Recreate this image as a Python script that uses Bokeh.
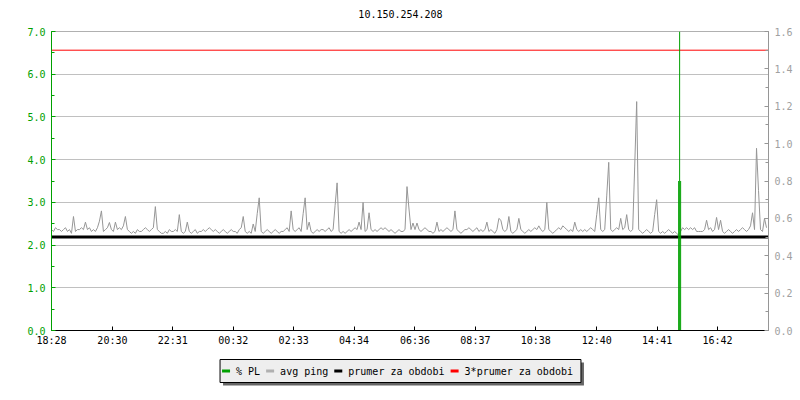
from bokeh.plotting import figure
from bokeh.layouts import column
from bokeh.models import (Range1d, LinearAxis, SingleIntervalTicker, FixedTicker,
                          NumeralTickFormatter)
from bokeh.core.properties import value
from bokeh.embed import file_html
from bokeh.resources import INLINE

# ---------------- data ----------------
title_text = "10.150.254.208"
start_label = "18:28"
tick_labels = ["18:28", "20:30", "22:31", "00:32", "02:33", "04:34",
               "06:36", "08:37", "10:38", "12:40", "14:41", "16:42"]
sample_step_min = 4  # minutes between avg ping samples

# avg ping (right axis), one value per sample
avg_ping = [
    0.54, 0.53, 0.55, 0.54, 0.54, 0.53, 0.54, 0.55, 0.53, 0.54, 0.52, 0.61, 0.53, 0.54, 0.54, 0.55, 0.54, 0.58, 0.54, 0.55,
    0.53, 0.54, 0.53, 0.55, 0.585, 0.64, 0.53, 0.54, 0.55, 0.578, 0.54, 0.53, 0.58, 0.54, 0.55, 0.54, 0.56, 0.61, 0.54, 0.53,
    0.52, 0.53, 0.52, 0.54, 0.53, 0.53, 0.54, 0.55, 0.54, 0.53, 0.54, 0.55, 0.663, 0.54, 0.53, 0.52, 0.52, 0.53, 0.52, 0.54,
    0.53, 0.53, 0.54, 0.53, 0.62, 0.53, 0.52, 0.53, 0.58, 0.53, 0.52, 0.53, 0.54, 0.52, 0.53, 0.53, 0.54, 0.53, 0.54, 0.55,
    0.54, 0.53, 0.54, 0.53, 0.52, 0.53, 0.54, 0.53, 0.52, 0.53, 0.54, 0.53, 0.53, 0.52, 0.54, 0.55, 0.61, 0.53, 0.52, 0.53,
    0.52, 0.57, 0.53, 0.625, 0.71, 0.53, 0.52, 0.53, 0.54, 0.53, 0.52, 0.53, 0.54, 0.53, 0.52, 0.53, 0.53, 0.54, 0.55, 0.53,
    0.64, 0.54, 0.53, 0.54, 0.55, 0.53, 0.625, 0.71, 0.54, 0.58, 0.53, 0.52, 0.53, 0.54, 0.53, 0.54, 0.54, 0.53, 0.54, 0.55,
    0.53, 0.54, 0.67, 0.79, 0.53, 0.52, 0.53, 0.52, 0.53, 0.54, 0.53, 0.54, 0.55, 0.54, 0.58, 0.54, 0.685, 0.53, 0.54, 0.63,
    0.54, 0.53, 0.54, 0.53, 0.54, 0.55, 0.54, 0.55, 0.54, 0.53, 0.54, 0.53, 0.52, 0.53, 0.54, 0.53, 0.53, 0.54, 0.77, 0.65,
    0.54, 0.575, 0.54, 0.575, 0.54, 0.53, 0.54, 0.55, 0.54, 0.53, 0.53, 0.52, 0.53, 0.58, 0.53, 0.54, 0.53, 0.54, 0.55, 0.54,
    0.53, 0.54, 0.64, 0.54, 0.53, 0.52, 0.53, 0.54, 0.54, 0.55, 0.54, 0.53, 0.54, 0.55, 0.53, 0.54, 0.53, 0.54, 0.58, 0.53,
    0.54, 0.53, 0.52, 0.54, 0.60, 0.59, 0.54, 0.53, 0.54, 0.61, 0.53, 0.52, 0.53, 0.54, 0.60, 0.54, 0.53, 0.52, 0.53, 0.54,
    0.53, 0.54, 0.55, 0.54, 0.56, 0.54, 0.53, 0.54, 0.685, 0.54, 0.53, 0.52, 0.53, 0.54, 0.55, 0.54, 0.56, 0.55, 0.54, 0.53,
    0.54, 0.53, 0.58, 0.54, 0.53, 0.54, 0.53, 0.54, 0.53, 0.54, 0.55, 0.54, 0.53, 0.62, 0.71, 0.54, 0.53, 0.54, 0.72, 0.90,
    0.54, 0.53, 0.54, 0.55, 0.54, 0.60, 0.54, 0.55, 0.62, 0.54, 0.53, 0.54, 0.875, 1.225, 0.54, 0.53, 0.52, 0.53, 0.54, 0.53,
    0.52, 0.53, 0.62, 0.70, 0.53, 0.52, 0.53, 0.52, 0.53, 0.54, 0.53, 0.52, 0.53, 0.52, 0.51, 0.53, 0.55, 0.54, 0.55, 0.54,
    0.55, 0.54, 0.55, 0.53, 0.53, 0.53, 0.53, 0.54, 0.59, 0.54, 0.55, 0.53, 0.54, 0.605, 0.54, 0.59, 0.53, 0.52, 0.53, 0.54,
    0.53, 0.52, 0.53, 0.54, 0.53, 0.54, 0.55, 0.54, 0.53, 0.54, 0.56, 0.63, 0.54, 0.975, 0.75, 0.54, 0.53, 0.60, 0.55,
]
prumer = 0.50  # average for the period (right axis)

# packet loss % (left axis), 2-minute samples around the outage, minutes from start
pl_step_min = 2
pl_minutes = [1256, 1258, 1260]
pl_values = [3.5, 100.0, 3.5]

legend_labels = ["% PL", "avg ping", "prumer za obdobi", "3*prumer za obdobi"]

# ---------------- derived ----------------
def to_min(s):
    h, m = s.split(":")
    return int(h) * 60 + int(m)

t0 = to_min(start_label)
tick_pos = [(to_min(s) - t0) % 1440 for s in tick_labels]
ping_minutes = [i * sample_step_min for i in range(len(avg_ping))]
x_end = len(avg_ping) * sample_step_min

GREEN = "#00a000"
GRAY = "#969696"
GRID = "#c0c0c0"
FONT = "DejaVu Sans Mono"
FRAME_L, FRAME_W, FRAME_R = 51, 717, 24
HEAD_H = 24
MAIN_TOP = 7
FRAME_H = 299
MAIN_BOTTOM = 22
LEG_H = 48
CENTER_X = 400


def blank_fig(h):
    # frame aligned with the main chart's frame; x in page pixels, y from top
    f = figure(frame_width=FRAME_W, frame_height=h, output_backend="svg", toolbar_location=None,
               x_range=Range1d(FRAME_L, FRAME_L + FRAME_W), y_range=Range1d(h, 0),
               x_axis_location=None, y_axis_location=None,
               min_border_left=FRAME_L, min_border_right=FRAME_R,
               min_border_top=0, min_border_bottom=0)
    f.grid.visible = False
    f.outline_line_color = None
    f.background_fill_color = "white"
    f.border_fill_color = "white"
    return f


# ---------------- header (title) ----------------
head = blank_fig(HEAD_H)
head.text(x=[CENTER_X], y=[13], text=[title_text], text_align="center", text_baseline="middle",
          text_font=value(FONT), text_font_size="10px", text_color="black")

# ---------------- main chart ----------------
p = figure(frame_width=FRAME_W, frame_height=FRAME_H, output_backend="svg", toolbar_location=None,
           x_range=Range1d(0, x_end), y_range=Range1d(0, 7),
           min_border_left=FRAME_L, min_border_right=FRAME_R, min_border_top=MAIN_TOP,
           min_border_bottom=MAIN_BOTTOM)
p.extra_y_ranges = {"right": Range1d(0, 1.6)}
p.background_fill_color = "white"
p.border_fill_color = "white"
p.outline_line_color = "#b0b0b0"

left_ticker = SingleIntervalTicker(interval=1, num_minor_ticks=2)
ya = p.yaxis[0]
ya.ticker = left_ticker
ya.formatter = NumeralTickFormatter(format="0.0")
ya.axis_line_color = GREEN
ya.major_tick_line_color = GREEN
ya.minor_tick_line_color = GREEN
ya.major_tick_in = 4
ya.major_tick_out = 0
ya.minor_tick_in = 3
ya.minor_tick_out = 0
ya.major_label_text_color = GREEN
ya.major_label_text_font = FONT
ya.major_label_text_font_size = "10px"
ya.major_label_standoff = 6

ra = LinearAxis(y_range_name="right",
                ticker=SingleIntervalTicker(interval=0.2, num_minor_ticks=2),
                formatter=NumeralTickFormatter(format="0.0"))
ra.axis_line_color = GRAY
ra.major_tick_line_color = GRAY
ra.minor_tick_line_color = GRAY
ra.major_tick_in = 4
ra.major_tick_out = 0
ra.minor_tick_in = 3
ra.minor_tick_out = 0
ra.major_label_text_color = "#a0a0a0"
ra.major_label_text_font = FONT
ra.major_label_text_font_size = "10px"
ra.major_label_standoff = 6
p.add_layout(ra, "right")

xa = p.xaxis[0]
xa.ticker = FixedTicker(ticks=tick_pos, minor_ticks=[])
xa.major_label_overrides = {t: s for t, s in zip(tick_pos, tick_labels)}
xa.axis_line_color = "black"
xa.major_tick_line_color = "black"
xa.major_tick_in = 4
xa.major_tick_out = 0
xa.major_label_text_color = "black"
xa.major_label_text_font = FONT
xa.major_label_text_font_size = "10px"
xa.major_label_standoff = 4

p.xgrid.visible = False
p.ygrid.ticker = left_ticker
p.ygrid.grid_line_color = GRID

p.line(ping_minutes, avg_ping, y_range_name="right", line_color=GRAY, line_width=1)
p.line([0, x_end], [prumer, prumer], y_range_name="right", line_color="black", line_width=3)
p.line([0, x_end], [3 * prumer, 3 * prumer], y_range_name="right", line_color="#ff0000", line_width=1)
p.vbar(x=pl_minutes, top=pl_values, width=pl_step_min, fill_color=GREEN, line_color=None)

# ---------------- legend ----------------
swatch_colors = [GREEN, "#b0b0b0", "black", "#ff0000"]
CHAR_W = 6.02
SW, GAP, PAD_L, PAD_R = 8, 6, 2, 8
item_w = [SW + GAP + CHAR_W * len(s) for s in legend_labels]
box_w = PAD_L + sum(item_w) + GAP * (len(item_w) - 1) + PAD_R
box_left = CENTER_X - box_w / 2
box_top, box_h = 7, 23
mid = box_top + box_h / 2

leg = blank_fig(LEG_H)
leg.quad(left=[box_left + 3], right=[box_left + box_w + 3], top=[box_top + 3],
         bottom=[box_top + box_h + 3], fill_color="#666666", line_color=None)
leg.quad(left=[box_left], right=[box_left + box_w], top=[box_top],
         bottom=[box_top + box_h], fill_color="#eeeeee", line_color="black", line_width=1)
sx0, sx1, tx = [], [], []
cur = box_left + PAD_L
for w in item_w:
    sx0.append(cur)
    sx1.append(cur + SW)
    tx.append(cur + SW + GAP)
    cur += w + GAP
leg.segment(x0=sx0, y0=[mid] * 4, x1=sx1, y1=[mid] * 4, line_color=swatch_colors, line_width=3)
leg.text(x=tx, y=[mid + 0.5] * 4, text=legend_labels, text_baseline="middle",
         text_font=value(FONT), text_font_size="10px", text_color="black")

layout = column(head, p, leg, spacing=0)
open("out.html", "w").write(file_html(layout, INLINE))
